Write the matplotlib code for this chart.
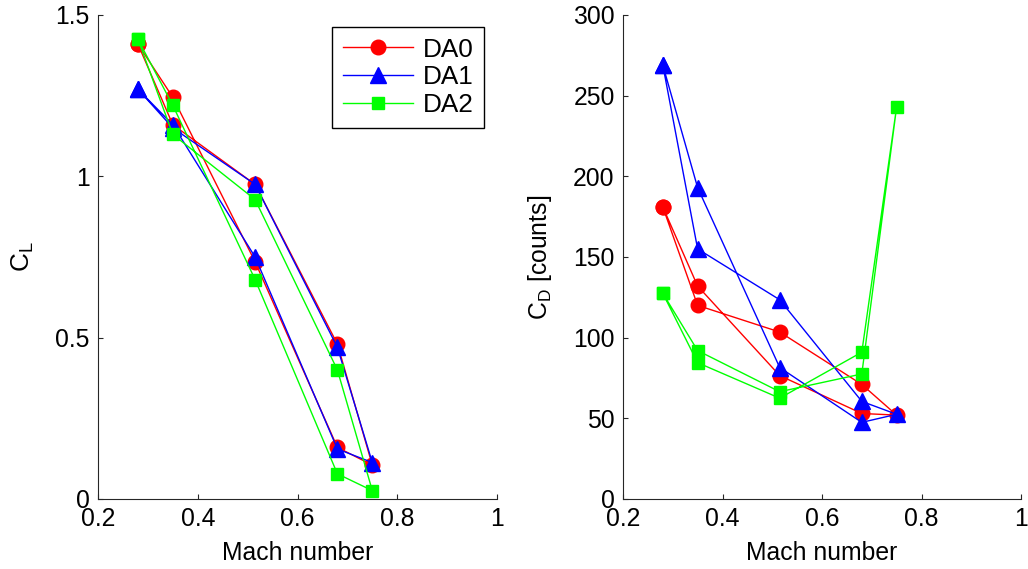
import matplotlib
matplotlib.use("Agg")
import matplotlib.pyplot as plt

plt.rcParams['font.family'] = ['Liberation Sans', 'DejaVu Sans']
plt.rcParams['mathtext.fontset'] = 'custom'
plt.rcParams['mathtext.rm'] = 'Liberation Sans'
plt.rcParams['mathtext.it'] = 'Liberation Sans'

# Sweep order (up then back down in Mach number)
mach = [0.28, 0.35, 0.515, 0.68, 0.75, 0.68, 0.515, 0.35, 0.28]

series_names = ["DA0", "DA1", "DA2"]

cl_da0 = [1.41, 1.245, 0.735, 0.16, 0.105, 0.48, 0.975, 1.16, 1.41]
cl_da1 = [1.27, 1.16, 0.75, 0.155, 0.113, 0.47, 0.975, 1.15, 1.27]
cl_da2 = [1.425, 1.22, 0.68, 0.078, 0.026, 0.40, 0.928, 1.13, 1.425]

cd_da0 = [181, 132, 76.5, 53, 52, 71, 103.5, 120, 181]
cd_da1 = [269, 193, 81.5, 47.5, 52.5, 60.5, 123.5, 155, 269]
cd_da2 = [127.5, 92, 66.5, 77.5, 243, 91, 62.5, 84.5, 127.5]

x_ticks = [0.2, 0.4, 0.6, 0.8, 1.0]
x_ticklabels = ["0.2", "0.4", "0.6", "0.8", "1"]
cl_ticks = [0, 0.5, 1, 1.5]
cl_ticklabels = ["0", "0.5", "1", "1.5"]
cd_ticks = [0, 50, 100, 150, 200, 250, 300]

styles = [
    dict(color=(1, 0, 0), marker='o', ms=10.5),
    dict(color=(0, 0, 1), marker='^', ms=12),
    dict(color=(0, 1, 0), marker='s', ms=8.5),
]

FS = 17.8

fig = plt.figure(figsize=(10.28, 5.69), dpi=100)
ax1 = fig.add_axes([98/1028, 70/569, 399/1028, 484/569])
ax2 = fig.add_axes([623/1028, 70/569, 398/1028, 484/569])

for ax in (ax1, ax2):
    for s in ('top', 'right'):
        ax.spines[s].set_visible(False)
    for s in ('left', 'bottom'):
        ax.spines[s].set_linewidth(0.8)
        ax.spines[s].set_color('#262626')
    ax.tick_params(direction='in', length=3.5, width=0.8, labelsize=FS,
                   colors='#262626', labelcolor='black', pad=6)
    ax.set_xlim(0.2, 1.0)
    ax.set_xticks(x_ticks)
    ax.set_xticklabels(x_ticklabels)
    ax.set_xlabel("Mach number", fontsize=FS, labelpad=7)

for name, cl, st in zip(series_names, [cl_da0, cl_da1, cl_da2], styles):
    ax1.plot(mach, cl, lw=1.0, mew=1, mfc=st['color'], mec=st['color'],
             label=name, clip_on=False, **st)
for name, cd, st in zip(series_names, [cd_da0, cd_da1, cd_da2], styles):
    ax2.plot(mach, cd, lw=1.0, mew=1, mfc=st['color'], mec=st['color'],
             label=name, clip_on=False, **st)

ax1.set_ylim(0, 1.5)
ax1.set_yticks(cl_ticks)
ax1.set_yticklabels(cl_ticklabels)
ax1.set_ylabel(r"C$_{\mathrm{L}}$", fontsize=FS + 1, labelpad=14)

ax2.set_ylim(0, 300)
ax2.set_yticks(cd_ticks)
ax2.set_ylabel(r"C$_{\mathrm{D}}$ [counts]", fontsize=FS, labelpad=14)

leg = ax1.legend(loc='upper right', bbox_to_anchor=(0.967, 0.975),
                 borderaxespad=0, fontsize=FS + 1, fancybox=False, framealpha=1,
                 edgecolor='black', handlelength=2.7, handletextpad=0.35,
                 labelspacing=0.15, borderpad=0.4)
leg.get_frame().set_linewidth(1.0)

fig.savefig("out.png", dpi=100)
